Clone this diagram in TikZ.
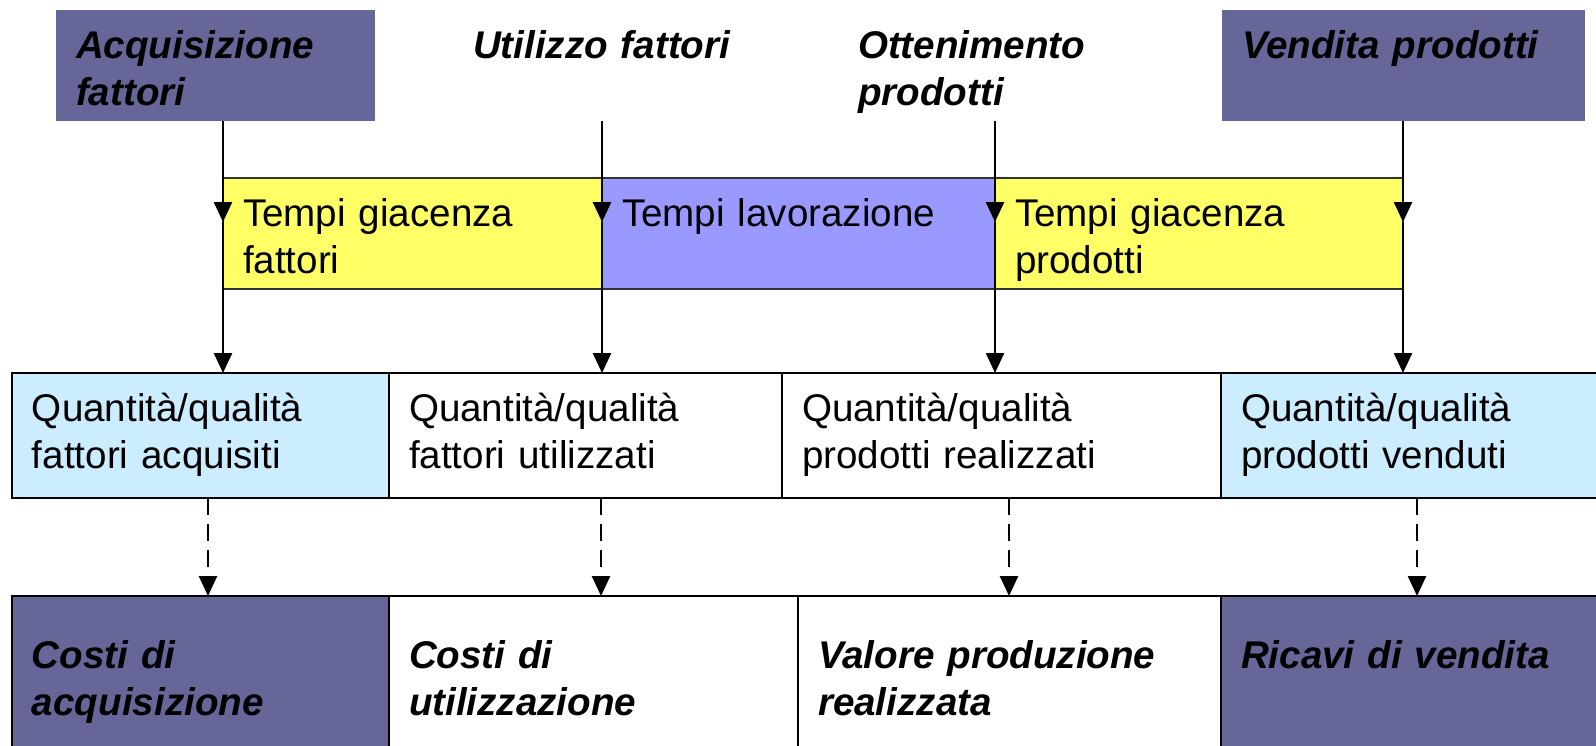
\documentclass[tikz,border=0pt]{standalone}
\usepackage{fontspec}
\setmainfont{Liberation Sans}
\usetikzlibrary{arrows.meta, positioning}
\definecolor{lilla}{RGB}{102,102,153}
\definecolor{giallo}{RGB}{255,255,102}
\definecolor{viola}{RGB}{153,153,255}
\definecolor{celeste}{RGB}{204,236,255}

\begin{document}
\begin{tikzpicture}[node distance=0pt,
    every node/.style={font=\fontsize{19.3}{23.5}\selectfont, align=left, inner xsep=10pt,
      inner ysep=0pt, outer sep=0pt, anchor=north west}]
  \tikzstyle{fase}=[font=\fontsize{19.3}{23.5}\selectfont\bfseries\itshape, text height=24pt, text depth=31.5pt]
  \tikzstyle{tempo}=[draw=black!80, line width=0.8pt, text height=24pt, text depth=31.5pt]
  \tikzstyle{quant}=[draw, line width=1pt, text height=24pt, text depth=38.5pt]
  \tikzstyle{valore}=[draw, line width=1pt, font=\fontsize{19.3}{23.5}\selectfont\bfseries\itshape, text height=36pt, text depth=44pt]
  \tikzstyle{freccia}=[line width=1.3pt, -{Triangle[length=10pt,width=9pt]}]
  \tikzstyle{dasharrow}=[freccia, dash pattern=on 8.5pt off 4.5pt]
  \useasboundingbox (0,0) rectangle (798pt,-372.5pt);

  % Fasi
  \node[fase, fill=lilla, text width=139.5pt] (acq) at (28pt,-5pt) {Acquisizione\\fattori};
  \node[fase, text width=180pt] (uti) at (226.5pt,-5pt) {Utilizzo fattori};
  \node[fase, text width=170pt] (ott) at (419pt,-5pt) {Ottenimento\\prodotti};
  \node[fase, fill=lilla, text width=161.5pt] (ven) at (611pt,-5pt) {Vendita prodotti};

  % Tempi
  \node[tempo, fill=giallo, text width=169.5pt] (gf) at (111.5pt,-89pt) {Tempi giacenza\\fattori};
  \node[tempo, fill=viola, text width=176.5pt, right=of gf] (lav) {Tempi lavorazione};
  \node[tempo, fill=giallo, text width=184pt, right=of lav] (gp) {Tempi giacenza\\prodotti};

  % Quantita
  \node[quant, fill=celeste, text width=168.5pt] (qfa) at (6pt,-186.5pt) {Quantità/qualità\\fattori acquisiti};
  \node[quant, text width=176.5pt, right=of qfa] (qfu) {Quantità/qualità\\fattori utilizzati};
  \node[quant, text width=199.5pt, right=of qfu] (qpr) {Quantità/qualità\\prodotti realizzati};
  \node[quant, fill=celeste, text width=170pt, right=of qpr] (qpv) {Quantità/qualità\\prodotti venduti};

  % Valori
  \node[valore, fill=lilla, text width=168.5pt] (cacq) at (6pt,-298pt) {Costi di\\acquisizione};
  \node[valore, text width=184.5pt, right=of cacq] (cuti) {Costi di\\utilizzazione};
  \node[valore, text width=191.5pt, right=of cuti] (vpr) {Valore produzione\\realizzata};
  \node[valore, fill=lilla, text width=170pt, right=of vpr] (ric) {Ricavi di vendita};

  % Frecce
  \foreach \alto/\x/\basso in {acq/gf.west/qfa, uti/lav.west/qfu, ott/gp.west/qpr, ven/gp.east/qpv} {
    \draw[freccia] (\alto.south -| \x) -- ([yshift=5.75pt]\x);
    \draw[freccia] ([yshift=5.75pt]\x) -- (\x |- \basso.north);
  }
  \foreach \a/\b/\s in {qfa/cacq/3.75pt, qfu/cuti/7.75pt, qpr/vpr/3.75pt, qpv/ric/3pt}
    \draw[dasharrow] ([xshift=\s]\a.south) -- ([xshift=\s]\a.south |- \b.north);
\end{tikzpicture}
\end{document}
